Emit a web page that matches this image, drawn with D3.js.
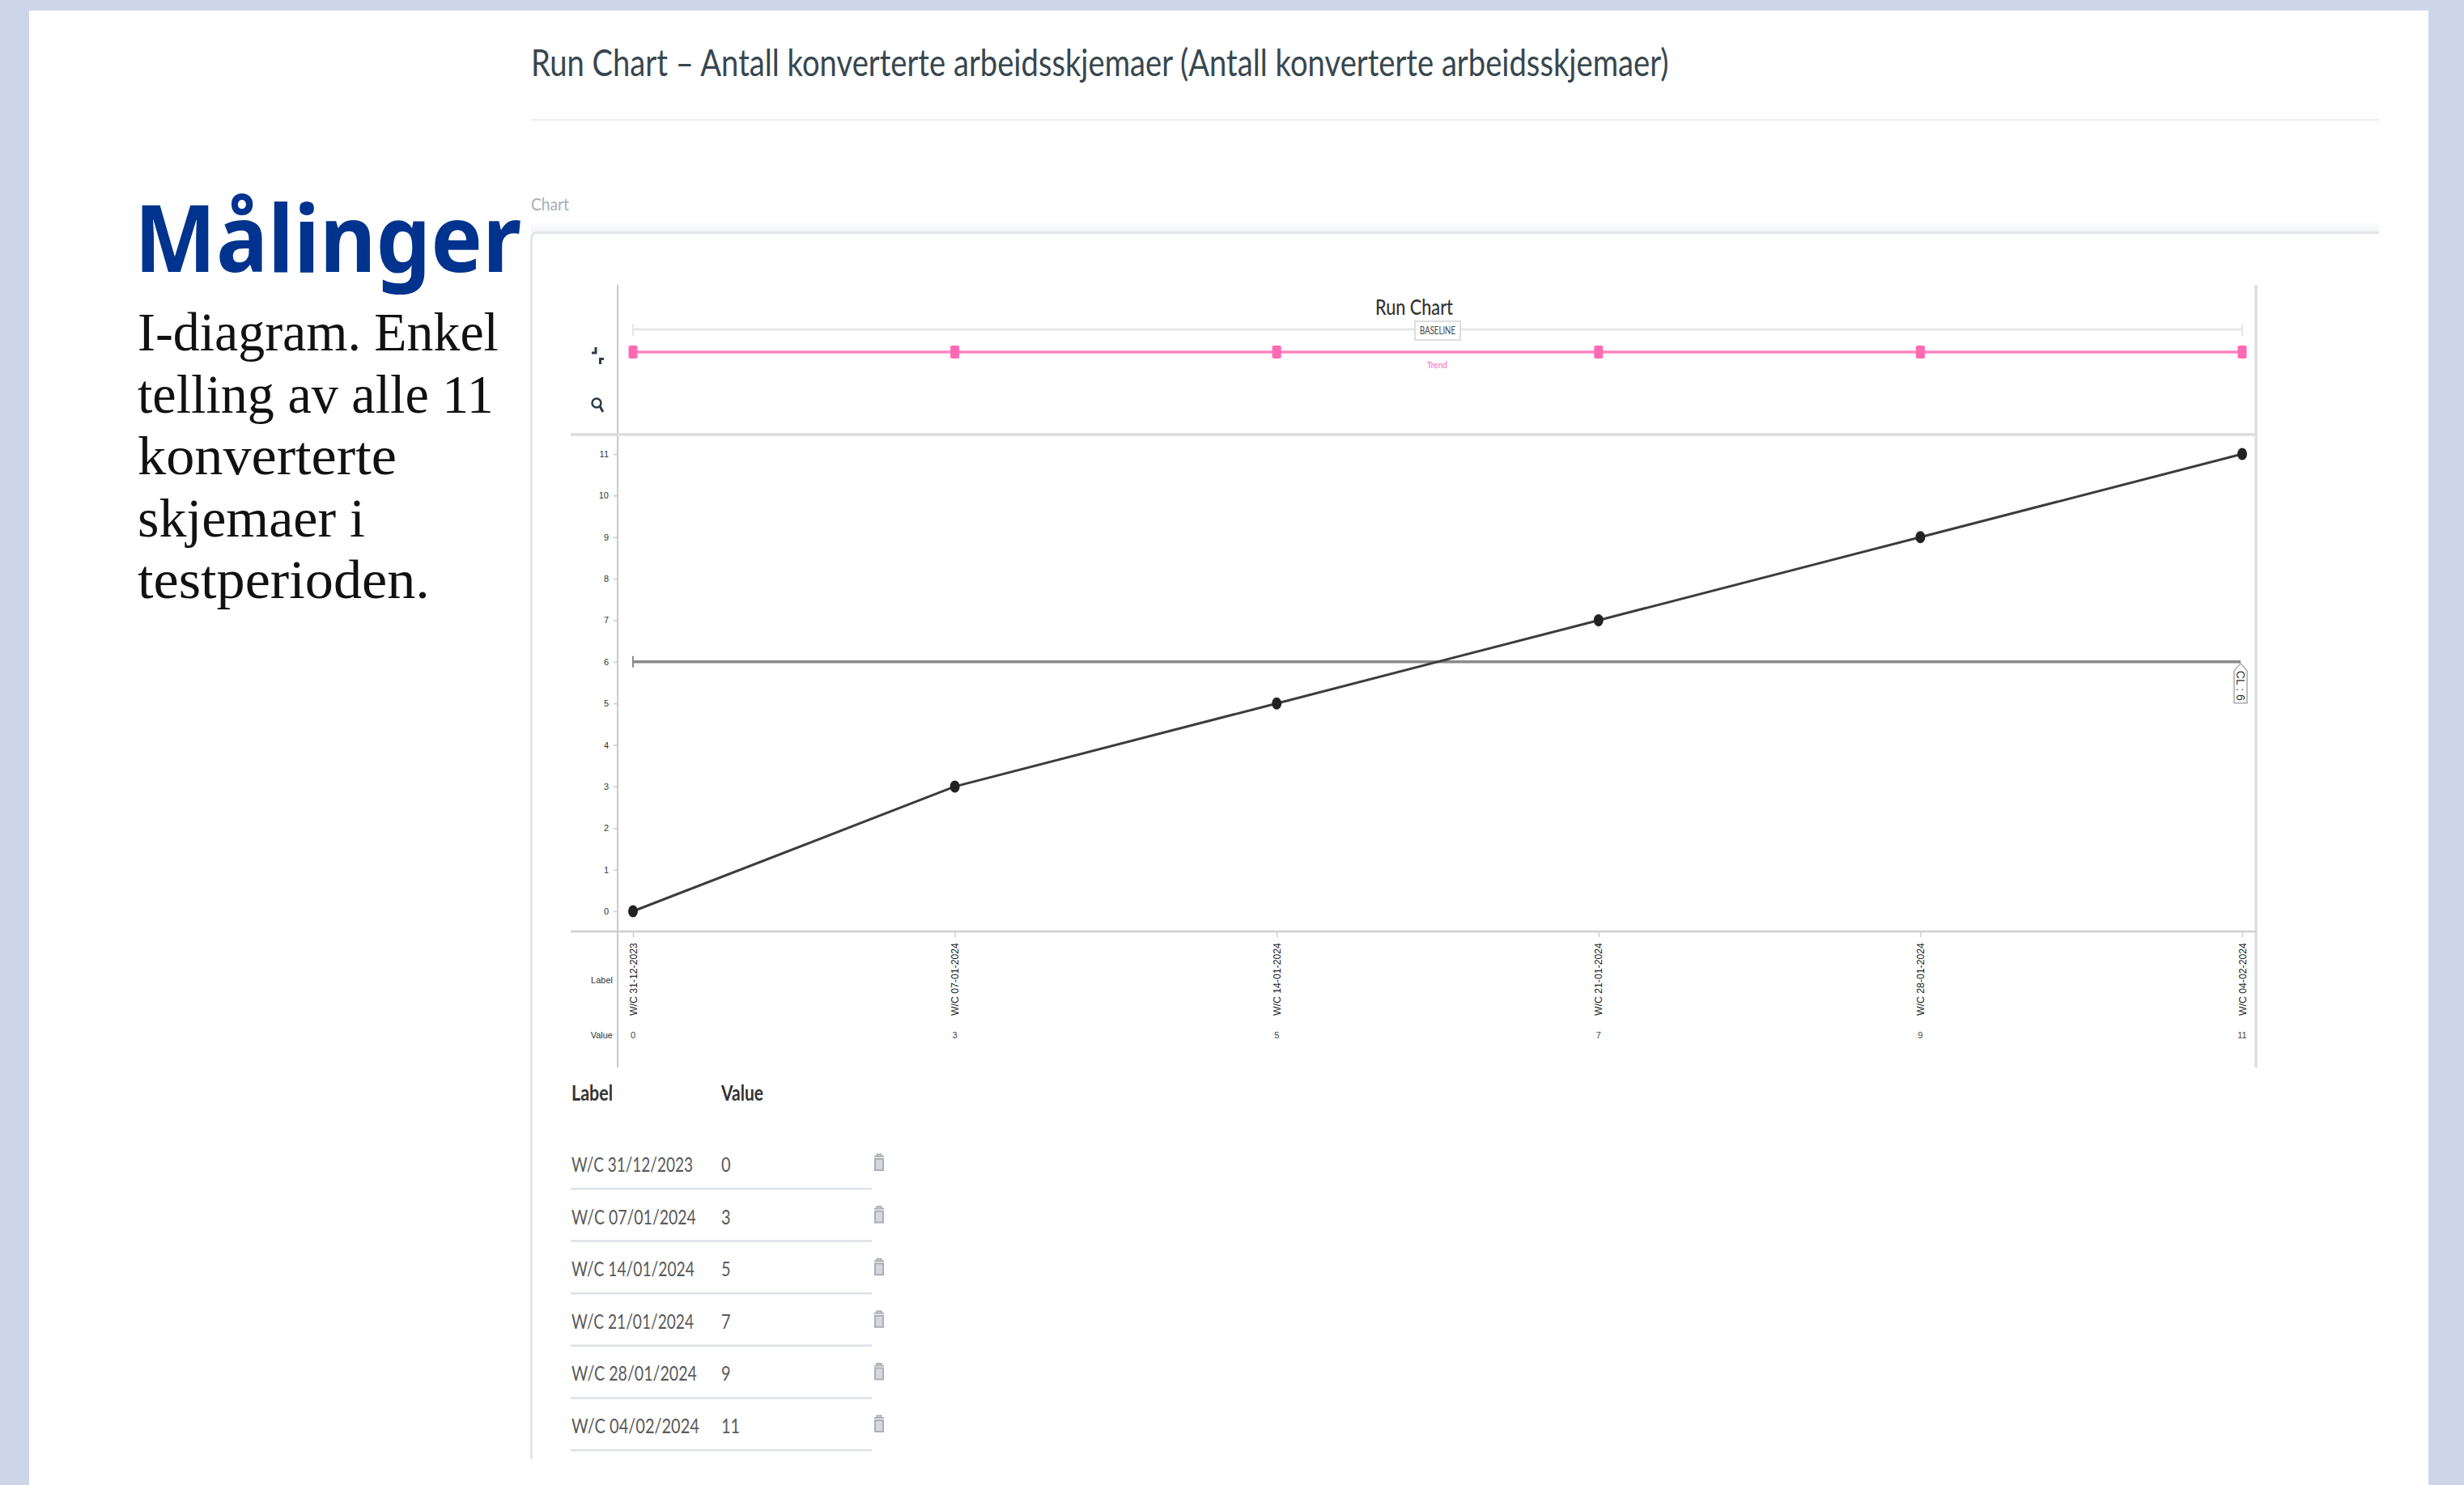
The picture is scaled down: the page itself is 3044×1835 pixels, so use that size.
<!DOCTYPE html>
<html><head><meta charset="utf-8">
<script src="https://cdn.jsdelivr.net/npm/d3@7/dist/d3.min.js"></script>
<style>html,body{margin:0;padding:0;background:#fff;overflow:hidden}svg{display:block}</style>
</head><body>
<svg id="c" width="3044" height="1835" viewBox="0 0 3044 1835"></svg>
<script>
// ---- data ----
const axisLabels = ["W/C 31-12-2023","W/C 07-01-2024","W/C 14-01-2024","W/C 21-01-2024","W/C 28-01-2024","W/C 04-02-2024"];
const runValues = [0,3,5,7,9,11];
const trendValues = [6,6,6,6,6,6];
const centerLine = 6;
const yTicks = [0,1,2,3,4,5,6,7,8,9,10,11];
const tableLabels = ["W/C 31/12/2023","W/C 07/01/2024","W/C 14/01/2024","W/C 21/01/2024","W/C 28/01/2024","W/C 04/02/2024"];
const heading = "Målinger";
const bodyLines = ["I-diagram. Enkel","telling av alle 11","konverterte","skjemaer i","testperioden."];
const pageTitle = "Run Chart – Antall konverterte arbeidsskjemaer (Antall konverterte arbeidsskjemaer)";

// ---- layout ----
const bodyWidths = [446,440,320,281,361];
const bodyBase = [433,510,586,663,739];
const tableW = [150,154,152,151,155,158];
const NARROW = "Lato, 'Open Sans', sans-serif";
const svg = d3.select("#c");

// draws a text; a target width squeezes the glyphs with a real horizontal scale
function txt(sel,s,x,y,o={}){
  const t = sel.append("text").text(s)
    .attr("font-family",o.font||NARROW).attr("font-size",o.size||14)
    .attr("fill",o.fill||"#333").attr("font-weight",o.weight||400)
    .attr("text-anchor",o.anchor||"start");
  let k = o.sx||1;
  if(o.w){ k = o.w / t.node().getComputedTextLength(); }
  const base = o.tf || `translate(${x},${y})`;
  t.attr("transform",`${base} scale(${k},1)`);
  return t;
}
function ln(sel,x1,y1,x2,y2,c,w){
  return sel.append("line").attr("x1",x1).attr("y1",y1).attr("x2",x2).attr("y2",y2).attr("stroke",c).attr("stroke-width",w);
}

// page
svg.append("rect").attr("width",3044).attr("height",1835).attr("fill","#cdd5e8");
svg.append("rect").attr("x",36).attr("y",13).attr("width",2964).attr("height",1822).attr("fill","#fff");

// left column
txt(svg,heading,166,336,{font:"'Noto Sans',sans-serif",size:114,weight:700,fill:"#00338d",w:478});
bodyLines.forEach((l,i)=>txt(svg,l,170,bodyBase[i],{font:"'Liberation Serif',serif",size:68,fill:"#111",w:bodyWidths[i]}));

// header
txt(svg,pageTitle,656,94,{size:47,fill:"#38474f",w:1406});
ln(svg,656,148,2939,148,"#edf0f4",2.5);
txt(svg,"Chart",656,260,{size:21,fill:"#a7adb5",w:47});

// card
const defs = svg.append("defs");
const g = defs.append("linearGradient").attr("id","sh").attr("x1",0).attr("x2",0).attr("y1",0).attr("y2",1);
g.append("stop").attr("offset",0).attr("stop-color","#fff");
g.append("stop").attr("offset",1).attr("stop-color","#f3f4f7");
svg.append("rect").attr("x",656).attr("y",273).attr("width",2283).attr("height",13).attr("fill","url(#sh)");
svg.append("path").attr("d","M656.5,1803V295Q656.5,287.5 664,287.5H2939").attr("fill","none").attr("stroke","#e1e5eb").attr("stroke-width",3);

// scales
const x = d3.scalePoint().domain(axisLabels).range([782,2770]);
const y = d3.scaleLinear().domain([0,11]).range([1126,561]);
const yTrend = d3.scaleLinear().domain([0,12]).range([463,407]);

// frame
ln(svg,763,352,763,1319,"#c9c9c9",2);
ln(svg,2787,352,2787,1319,"#dedede",3.5);
ln(svg,705,537,2788,537,"#dcdcdc",3.5);
ln(svg,705,1151,2788,1151,"#cfcfcf",2.5);

// title + baseline + trend
txt(svg,"Run Chart",1699,389,{size:26,fill:"#333",weight:500,w:96});
ln(svg,782,407,2770,407,"#e6e6e6",3);
ln(svg,782,400,782,415,"#e6e6e6",2);
ln(svg,2770,400,2770,415,"#e6e6e6",2);
svg.append("rect").attr("x",1748).attr("y",397).attr("width",56).attr("height",23).attr("fill","#fff").attr("stroke","#dddddd").attr("stroke-width",2);
txt(svg,"BASELINE",1754,413,{size:13,fill:"#444",w:44});

const trendLine = d3.line().x((d,i)=>x(axisLabels[i])).y(d=>yTrend(d));
svg.append("path").datum(trendValues).attr("d",trendLine).attr("fill","none").attr("stroke","#ff85c0").attr("stroke-width",3.5);
svg.selectAll("rect.tr").data(trendValues).join("rect").attr("class","tr")
  .attr("x",(d,i)=>x(axisLabels[i])-5.5).attr("y",d=>yTrend(d)-8).attr("width",11).attr("height",16)
  .attr("rx",2).attr("fill","#ff69b4");
txt(svg,"Trend",1763,455,{size:12,fill:"#ff69b4",w:25});

// icons
const ic = svg.append("g").attr("fill","none").attr("stroke","#2c3a48").attr("stroke-width",3);
ic.append("path").attr("d","M736,429V436H731");
ic.append("path").attr("d","M746,443.5H741.5V450");
ic.append("circle").attr("cx",737).attr("cy",498).attr("r",5.5).attr("stroke-width",2.5);
ic.append("path").attr("d","M741,502L745,509");

// y axis
const yAxis = svg.append("g").attr("transform","translate(763,0)")
  .call(d3.axisLeft(y).tickValues(yTicks).tickSize(5).tickPadding(6));
yAxis.select(".domain").remove();
yAxis.selectAll(".tick line").attr("stroke","#cccccc").attr("stroke-width",1.5);
yAxis.selectAll("text").attr("font-family","'Liberation Sans',sans-serif").attr("font-size",11).attr("fill","#333");

// x axis
const xAxis = svg.append("g").attr("transform","translate(0,1151)")
  .call(d3.axisBottom(x).tickSize(7).tickFormat(""));
xAxis.select(".domain").remove();
xAxis.selectAll(".tick line").attr("stroke","#d0d0d0").attr("stroke-width",1.5);
axisLabels.forEach((l,i)=>{
  const px = x(l);
  txt(svg,l,0,0,{font:"'Liberation Sans',sans-serif",size:13,fill:"#222",w:90,tf:`translate(${px+4.5},1255) rotate(-90)`});
  txt(svg,String(runValues[i]),px,1283,{font:"'Liberation Sans',sans-serif",size:11,fill:"#444",anchor:"middle"});
});
txt(svg,"Label",757,1215,{font:"'Liberation Sans',sans-serif",size:11,fill:"#333",anchor:"end"});
txt(svg,"Value",757,1283,{font:"'Liberation Sans',sans-serif",size:11,fill:"#333",anchor:"end"});

// center line
const cly = y(centerLine);
ln(svg,782,cly,2768,cly,"#8a8a8a",3.5);
ln(svg,782,cly-7,782,cly+7,"#8a8a8a",2);
svg.append("path").attr("d",`M2768,${cly+2}L2776,${cly+11}V${cly+51}H2760V${cly+11}Z`).attr("fill","#fff").attr("stroke","#aaaaaa").attr("stroke-width",1.5);
txt(svg,"CL : 6",0,0,{font:"'Liberation Sans',sans-serif",size:15,fill:"#333",w:37,tf:`translate(2763,${cly+11}) rotate(90)`});

// run line
const runLine = d3.line().x((d,i)=>x(axisLabels[i])).y(d=>y(d));
svg.append("path").datum(runValues).attr("d",runLine).attr("fill","none").attr("stroke","#3c3c3c").attr("stroke-width",3);
svg.selectAll("ellipse.pt").data(runValues).join("ellipse").attr("class","pt")
  .attr("cx",(d,i)=>x(axisLabels[i])).attr("cy",d=>y(d)).attr("rx",6).attr("ry",7.5).attr("fill","#222");

// table
txt(svg,"Label",706,1360,{size:27,fill:"#333",weight:700,w:51});
txt(svg,"Value",891,1360,{size:27,fill:"#333",weight:700,w:52});
const rowY = d3.scaleLinear().domain([0,5]).range([1469,1792]);
tableLabels.forEach((l,i)=>{
  const ry = rowY(i);
  txt(svg,l,706,ry-21,{size:25,fill:"#5a5a5a",w:tableW[i]});
  txt(svg,String(runValues[i]),891,ry-21,{size:25,fill:"#5a5a5a",sx:0.8});
  ln(svg,705,ry,1077,ry,"#dde2ea",2.5);
  const t = svg.append("g").attr("transform",`translate(1086,${ry-32})`);
  t.append("path").attr("d","M-6,-8H6M-2.5,-8V-10.5H2.5V-8").attr("fill","none").attr("stroke","#aab0b7").attr("stroke-width",2);
  t.append("rect").attr("x",-5).attr("y",-5).attr("width",10).attr("height",14).attr("fill","#d4d8dc").attr("stroke","#aab0b7").attr("stroke-width",2);
});
</script>
</body></html>
